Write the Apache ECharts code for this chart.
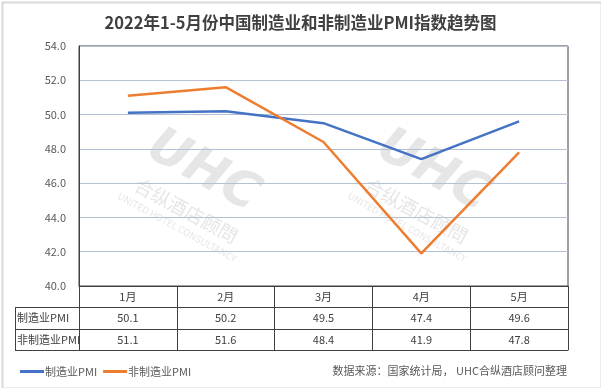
<!DOCTYPE html>
<html>
<head>
<meta charset="utf-8">
<script src="https://cdn.jsdelivr.net/npm/echarts@6/dist/echarts.min.js"></script>
<style>
html,body{margin:0;padding:0;background:#fff;}
#c{width:601px;height:388px;}
</style>
</head>
<body>
<div id="c"></div>
<script>
const categories = ['1月','2月','3月','4月','5月'];
const manufacturing = [50.1, 50.2, 49.5, 47.4, 49.6];
const nonManufacturing = [51.1, 51.6, 48.4, 41.9, 47.8];
const seriesNames = ['制造业PMI','非制造业PMI'];
const yTicks = {min: 40, max: 54, interval: 2};

const FONT = '"Noto Sans CJK SC", "Noto Sans", sans-serif';
const BORDER = '#404040';
const chart = echarts.init(document.getElementById('c'), null, {renderer:'canvas'});

const rowLabelStyle = {fontFamily: FONT, fontSize: 11, fill: '#404040'};
const WM = '#e6e6e6';
const wmText = function(cx, cy){
  return {
    type: 'group', x: cx, y: cy, rotation: -0.5, silent: true, z: -1,
    children: [
      {type:'text', x: -4, y: -30, style:{text:'UHC', fontFamily:'"DejaVu Sans", sans-serif', fontSize: 50, fontWeight:'bold', fontStyle:'italic', fill:WM, align:'center', verticalAlign:'middle'}},
      {type:'text', x: 0, y: 12, style:{text:'合纵酒店顾問', fontFamily: FONT, fontSize: 19, fill:WM, align:'center', verticalAlign:'middle'}},
      {type:'text', x: 0, y: 31, style:{text:'UNITED HOTEL CONSULTANCY', fontFamily: FONT, fontSize: 9.5, fill:WM, align:'center', verticalAlign:'middle'}}
    ]
  };
};

chart.setOption({
  animation: false,
  backgroundColor: '#fff',
  title: [
    {text: '2022年1-5月份中国制造业和非制造业PMI指数趋势图', left: 'center', top: 9,
     textStyle: {fontFamily: FONT, fontSize: 16.5, fontWeight: 'bold', color: '#404040'}},
    {text: '数据来源：国家统计局， UHC合纵酒店顾问整理', right: 29, top: 360,
     textStyle: {fontFamily: FONT, fontSize: 11, fontWeight: 'normal', color: '#595959'}}
  ],
  legend: {
    left: 15, top: 361, itemWidth: 24, itemHeight: 3, itemGap: 6, icon: 'rect',
    textStyle: {fontFamily: FONT, fontSize: 11, color: '#595959', padding: [0,0,0,-4]},
    data: seriesNames
  },
  grid: {left: 79, right: 33, top: 46, bottom: 102, show: true, borderColor: BORDER, borderWidth: 1, backgroundColor: 'transparent'},
  xAxis: [
    {type:'category', data: categories, position:'bottom', offset: 0, boundaryGap: true,
     axisLine:{show:true, lineStyle:{color:BORDER}},
     axisTick:{show:true, length: 64, lineStyle:{color:BORDER}},
     axisLabel:{margin: 0, lineHeight: 21, fontFamily: FONT, fontSize: 11, color:'#404040'}},
    {type:'category', data: manufacturing.map(v=>v.toFixed(1)), position:'bottom', offset: 21, boundaryGap: true,
     axisLine:{show:true, lineStyle:{color:BORDER}}, axisTick:{show:false},
     axisLabel:{margin: 0, lineHeight: 22, fontFamily: FONT, fontSize: 11, color:'#404040'}},
    {type:'category', data: nonManufacturing.map(v=>v.toFixed(1)), position:'bottom', offset: 43, boundaryGap: true,
     axisLine:{show:true, lineStyle:{color:BORDER}}, axisTick:{show:false},
     axisLabel:{margin: 0, lineHeight: 21, fontFamily: FONT, fontSize: 11, color:'#404040'}},
    {type:'category', data: categories, position:'bottom', offset: 64, boundaryGap: true,
     axisLine:{show:true, lineStyle:{color:BORDER}}, axisTick:{show:false}, axisLabel:{show:false}}
  ],
  yAxis: {
    type:'value', min: yTicks.min, max: yTicks.max, interval: yTicks.interval,
    axisLine:{show:true, lineStyle:{color:BORDER}}, axisTick:{show:false},
    axisLabel:{margin: 13, fontFamily: FONT, fontSize: 11, color:'#595959', formatter: v=>v.toFixed(1)},
    splitLine:{show:true, lineStyle:{color:'#B4C0D4', width: 1}}
  },
  series: [
    {name: seriesNames[0], type:'line', data: manufacturing, xAxisIndex: 0, symbol:'none', color:'#4472C4', lineStyle:{width:2.5, color:'#4472C4'}, z: 3},
    {name: seriesNames[1], type:'line', data: nonManufacturing, xAxisIndex: 0, symbol:'none', color:'#ED7D31', lineStyle:{width:2.5, color:'#ED7D31'}, z: 3}
  ],
  graphic: [
    {type:'rect', left: 0, top: 0, shape:{x:0.5, y:0.5, width:599, height:386}, style:{fill:'none', stroke:'#D9D9D9', lineWidth: 2}, silent:true},
    wmText(192, 200),
    wmText(422, 200),
    {type:'line', shape:{x1:15, y1:307.5, x2:79, y2:307.5}, style:{stroke:BORDER, lineWidth:1}},
    {type:'line', shape:{x1:15, y1:329.5, x2:79, y2:329.5}, style:{stroke:BORDER, lineWidth:1}},
    {type:'line', shape:{x1:15, y1:350.5, x2:79, y2:350.5}, style:{stroke:BORDER, lineWidth:1}},
    {type:'line', shape:{x1:15.5, y1:307, x2:15.5, y2:351}, style:{stroke:BORDER, lineWidth:1}},
    {type:'text', x: 17, y: 318, style: Object.assign({text: seriesNames[0], verticalAlign:'middle'}, rowLabelStyle)},
    {type:'text', x: 17, y: 340, style: Object.assign({text: seriesNames[1], verticalAlign:'middle'}, rowLabelStyle)}
  ]
});
</script>
</body>
</html>
